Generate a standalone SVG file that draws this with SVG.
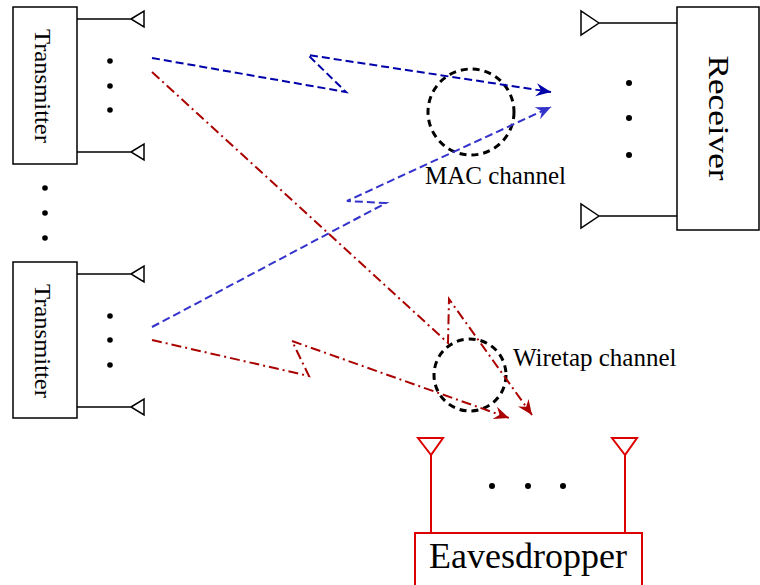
<svg xmlns="http://www.w3.org/2000/svg" width="760" height="585" viewBox="0 0 760 585">
<style>
.box{fill:#fff;stroke:#000;stroke-width:1.5}
.ant{fill:none;stroke:#000;stroke-width:1.5}
.red{fill:none;stroke:#dd0000;stroke-width:2}
.lbl{font-family:"Liberation Serif","Times New Roman",serif;fill:#000}
.dot{fill:#000}
.circ{fill:none;stroke:#000;stroke-width:3;stroke-dasharray:7 5}
.b1{fill:none;stroke:#0000aa;stroke-width:2;stroke-dasharray:8 4}
.b2{fill:none;stroke:#3333cc;stroke-width:2;stroke-dasharray:8 4}
.r1{fill:none;stroke:#aa0000;stroke-width:2;stroke-dasharray:10 4 2 4}
</style>
<defs>
<marker id="ab1" viewBox="-16 -8 18 16" refX="0" refY="0" markerWidth="18" markerHeight="16" markerUnits="userSpaceOnUse" orient="auto"><path d="M0,0 L-15,-6.5 L-10,0 L-15,6.5 Z" fill="#0000aa"/></marker>
<marker id="ab2" viewBox="-16 -8 18 16" refX="0" refY="0" markerWidth="18" markerHeight="16" markerUnits="userSpaceOnUse" orient="auto"><path d="M0,0 L-15,-6.5 L-10,0 L-15,6.5 Z" fill="#3333cc"/></marker>
<marker id="ar" viewBox="-16 -8 18 16" refX="0" refY="0" markerWidth="18" markerHeight="16" markerUnits="userSpaceOnUse" orient="auto"><path d="M0,0 L-15,-6.5 L-10,0 L-15,6.5 Z" fill="#aa0000"/></marker>
</defs>

<g id="transmitter1">
<rect class="box" x="13" y="7" width="64" height="157"/>
<text class="lbl" font-size="24" text-anchor="middle" textLength="114" lengthAdjust="spacingAndGlyphs" transform="translate(35,86) rotate(90)">Transmitter</text>
<path class="ant" d="M77,19 H131 M131,19 L144,11 V27 Z M77,152 H131 M131,152 L144,144 V160 Z"/>
<circle class="dot" cx="110" cy="61" r="2.8"/><circle class="dot" cx="110" cy="86" r="2.8"/><circle class="dot" cx="110" cy="110" r="2.8"/>
</g>

<g id="tx-dots">
<circle class="dot" cx="45" cy="188" r="2.8"/><circle class="dot" cx="45" cy="213" r="2.8"/><circle class="dot" cx="45" cy="238" r="2.8"/>
</g>

<g id="transmitter2">
<rect class="box" x="13" y="262" width="64" height="156"/>
<text class="lbl" font-size="24" text-anchor="middle" textLength="114" lengthAdjust="spacingAndGlyphs" transform="translate(35,341) rotate(90)">Transmitter</text>
<path class="ant" d="M77,274 H131 M131,274 L144,266 V282 Z M77,407 H131 M131,407 L144,399 V415 Z"/>
<circle class="dot" cx="110" cy="316" r="2.8"/><circle class="dot" cx="110" cy="340" r="2.8"/><circle class="dot" cx="110" cy="365" r="2.8"/>
</g>

<g id="receiver">
<rect class="box" x="677" y="7" width="82" height="223"/>
<text class="lbl" font-size="30" text-anchor="middle" textLength="125" lengthAdjust="spacingAndGlyphs" transform="translate(709,118) rotate(90)">Receiver</text>
<path class="ant" d="M677,23 H599 M599,23 L581,11 V35 Z M677,216 H599 M599,216 L581,204 V228 Z"/>
<circle class="dot" cx="629" cy="83" r="3"/><circle class="dot" cx="629" cy="118" r="3"/><circle class="dot" cx="629" cy="155" r="3"/>
</g>

<g id="eavesdropper">
<rect x="415" y="533" width="227" height="60" fill="#fff" stroke="#dd0000" stroke-width="2"/>
<text class="lbl" font-size="36" text-anchor="middle" x="528" y="568">Eavesdropper</text>
<path class="red" d="M431,533 V455 M431,455 L418,438 H443 Z M625,533 V455 M625,455 L612,438 H637 Z"/>
<circle class="dot" cx="492" cy="486" r="3"/><circle class="dot" cx="528" cy="486" r="3"/><circle class="dot" cx="563" cy="486" r="3"/>
</g>

<g id="mac-channel">
<circle class="circ" cx="471" cy="112" r="43"/>
<text class="lbl" font-size="25" x="425" y="184">MAC channel</text>
</g>

<g id="wiretap-channel">
<circle class="circ" cx="470" cy="375" r="36"/>
<text class="lbl" font-size="25" x="513" y="366">Wiretap channel</text>
</g>

<g id="connectors">
<polyline class="b1" points="152,58 346,92 308,55 551,92" marker-end="url(#ab1)"/>
<polyline class="b2" points="152,327 386,203 347,201 551,107" marker-end="url(#ab2)"/>
<polyline class="r1" points="152,72 448,343 449,299 532,415" marker-end="url(#ar)"/>
<polyline class="r1" points="152,340 309,376 292,341 509,418" marker-end="url(#ar)"/>
</g>
</svg>
